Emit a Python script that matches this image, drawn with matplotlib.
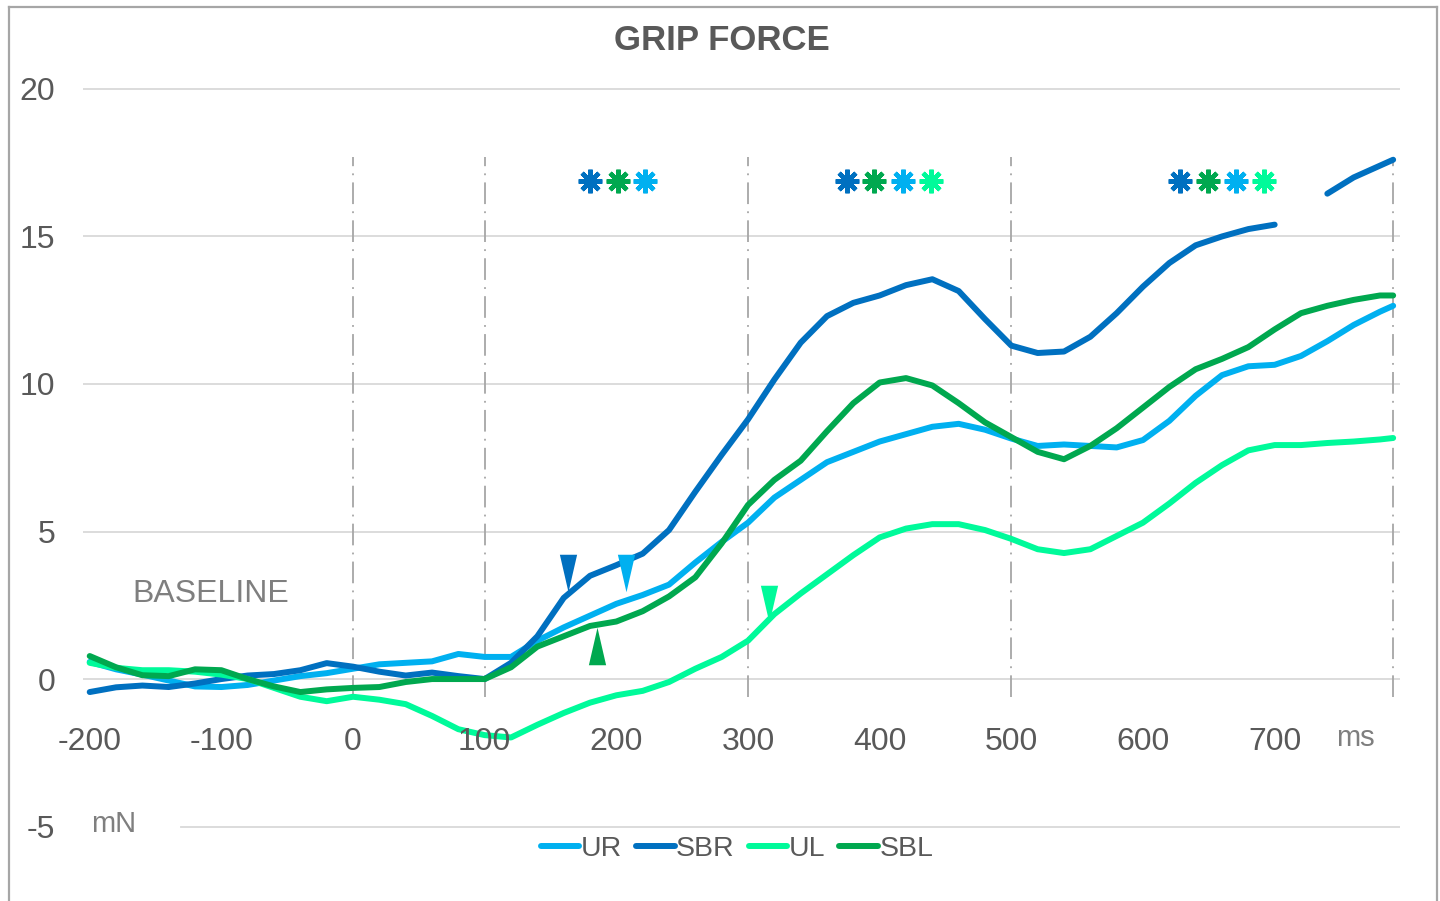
import numpy as np
import matplotlib
matplotlib.use('Agg')
import matplotlib.pyplot as plt
from matplotlib.lines import Line2D

plt.rcParams['font.family'] = ['Liberation Sans', 'DejaVu Sans']

# 시간축 (ms)
ms = [-200, -180, -160, -140, -120, -100, -80, -60, -40, -20,
      0, 20, 40, 60, 80, 100, 120, 140, 160, 180,
      200, 220, 240, 260, 280, 300, 320, 340, 360, 380,
      400, 420, 440, 460, 480, 500, 520, 540, 560, 580,
      600, 620, 640, 660, 680, 700, 720, 740, 760, 780, 790]

# 각 조건별 grip force (mN)
ur = [0.58, 0.33, 0.15, -0.05, -0.25, -0.27, -0.2, -0.05, 0.1, 0.2,
      0.35, 0.5, 0.55, 0.6, 0.85, 0.75, 0.75, 1.3, 1.75, 2.15,
      2.55, 2.85, 3.2, 3.95, 4.65, 5.3, 6.15, 6.75, 7.35, 7.7,
      8.05, 8.3, 8.55, 8.65, 8.45, 8.15, 7.9, 7.95, 7.9, 7.85,
      8.1, 8.75, 9.6, 10.3, 10.6, 10.65, 10.95, 11.45, 12.0, 12.45, 12.65]

sbr = [-0.44, -0.28, -0.22, -0.27, -0.15, 0.0, 0.12, 0.17, 0.3, 0.54,
       0.42, 0.25, 0.12, 0.22, 0.1, 0.0, 0.55, 1.45, 2.75, 3.5,
       3.86, 4.25, 5.05, 6.35, 7.6, 8.8, 10.15, 11.4, 12.3, 12.75,
       13.0, 13.35, 13.55, 13.15, 12.2, 11.3, 11.05, 11.1, 11.6, 12.4,
       13.3, 14.1, 14.7, 15.0, 15.25, 15.4, np.nan, 16.45, 17.0, 17.4, 17.6]

ul = [0.55, 0.38, 0.3, 0.3, 0.25, 0.15, 0.0, -0.3, -0.6, -0.75,
      -0.6, -0.7, -0.85, -1.25, -1.7, -1.9, -1.98, -1.55, -1.15, -0.8,
      -0.55, -0.4, -0.1, 0.35, 0.75, 1.3, 2.2, 2.9, 3.55, 4.2,
      4.8, 5.1, 5.25, 5.25, 5.05, 4.75, 4.4, 4.27, 4.4, 4.85,
      5.3, 5.95, 6.65, 7.25, 7.75, 7.93, 7.93, 8.0, 8.05, 8.12, 8.17]

sbl = [0.78, 0.4, 0.13, 0.1, 0.33, 0.3, 0.0, -0.25, -0.44, -0.35,
       -0.3, -0.27, -0.1, 0.0, 0.0, 0.0, 0.4, 1.1, 1.45, 1.8,
       1.95, 2.3, 2.8, 3.45, 4.6, 5.9, 6.75, 7.4, 8.4, 9.35,
       10.05, 10.2, 9.95, 9.35, 8.7, 8.2, 7.7, 7.45, 7.9, 8.5,
       9.2, 9.9, 10.5, 10.85, 11.25, 11.85, 12.4, 12.65, 12.85, 13.0, 13.0]

series_names = ['UR', 'SBR', 'UL', 'SBL']
series_vals = [ur, sbr, ul, sbl]
colors = {'UR': '#00B0F0', 'SBR': '#0070C0', 'UL': '#00FA9A', 'SBL': '#00A84F'}

# 구간 경계선, 눈금
epoch_lines = [0, 100, 300, 500, 790]
xtick_vals = [-200, -100, 0, 100, 200, 300, 400, 500, 600, 700]
ytick_vals = [-5, 0, 5, 10, 15, 20]

# 반응 시작 화살표 (조건, x, y 중심, 방향)
onsets = [('SBR', 163, 3.6, 'down'), ('UR', 207, 3.58, 'down'),
          ('UL', 316, 2.56, 'down'), ('SBL', 185, 1.12, 'up')]

# 유의성 별표 (x, 조건)
stars_y = 16.88
stars = [(180, 'SBR'), (201, 'SBL'), (222, 'UR'),
         (375, 'SBR'), (396, 'SBL'), (418, 'UR'), (439, 'UL'),
         (628, 'SBR'), (649, 'SBL'), (671, 'UR'), (692, 'UL')]

W, H = 1440, 901
fig = plt.figure(figsize=(W / 100, H / 100), dpi=100)
ax = fig.add_axes([83 / W, 1 - 880 / H, 1317 / W, 820 / H])
ax.set_xlim(-205.1, 795.2)
ax.set_ylim(-6.81, 20.98)
for s in ax.spines.values():
    s.set_visible(False)

grid_c = '#D9D9D9'
for yv in ytick_vals:
    xs = -131 if yv == -5 else -205.1
    ax.plot([xs, 795.2], [yv, yv], color=grid_c, lw=1.3, zorder=1)

for xv in epoch_lines:
    ax.plot([xv, xv], [-0.6, 17.7], color='#A6A6A6', lw=1.3,
            linestyle=(0, (12, 4, 1, 4)), zorder=1)

for name, vals in zip(series_names, series_vals):
    ax.plot(ms, vals, color=colors[name], lw=4.3, label=name,
            solid_capstyle='round', solid_joinstyle='round', zorder=3)

tri_down = [(-0.23, 0.5), (0.23, 0.5), (0, -0.5)]
tri_up = [(-0.23, -0.5), (0.23, -0.5), (0, 0.5)]
for name, xv, yv, d in onsets:
    ax.plot([xv], [yv], linestyle='none', marker=tri_down if d == 'down' else tri_up,
            markersize=27, color=colors[name], markeredgewidth=0, zorder=4)

for xv, name in stars:
    ax.plot([xv], [stars_y], linestyle='none', marker=(8, 2, 0), markersize=17,
            markeredgewidth=3.2, color=colors[name], zorder=4)

ax.set_xticks([])
ax.set_yticks(ytick_vals)
ax.set_yticklabels([str(v) for v in ytick_vals], fontsize=23, color='#595959')
ax.tick_params(axis='y', length=0, pad=20)

for xv in xtick_vals:
    ax.text(xv, -2.14, str(xv), ha='center', va='center', fontsize=23, color='#595959')
ax.text(761, -2.0, 'ms', ha='center', va='center', fontsize=21, color='#7F7F7F')
ax.text(-182, -4.92, 'mN', ha='center', va='center', fontsize=21, color='#7F7F7F')
ax.text(-108, 2.88, 'BASELINE', ha='center', va='center', fontsize=23, color='#7F7F7F')

fig.text(722 / W, 1 - 41 / H, 'GRIP FORCE', ha='center', va='center',
         fontsize=25, fontweight='bold', color='#595959')

fig.legend(loc='center', bbox_to_anchor=(737 / W, 1 - 849 / H), ncol=4, frameon=False,
           fontsize=20.5, handlelength=1.35, handletextpad=0.05, columnspacing=0.5,
           labelcolor='#595959')

# 바깥 테두리
bc = '#A6A6A6'
fig.add_artist(Line2D([9 / W, 9 / W], [0, 1 - 7 / H], color=bc, lw=1.6))
fig.add_artist(Line2D([1437 / W, 1437 / W], [0, 1 - 7 / H], color=bc, lw=1.6))
fig.add_artist(Line2D([9 / W, 1437 / W], [1 - 7 / H, 1 - 7 / H], color=bc, lw=1.6))

fig.savefig('out.png', dpi=100)
